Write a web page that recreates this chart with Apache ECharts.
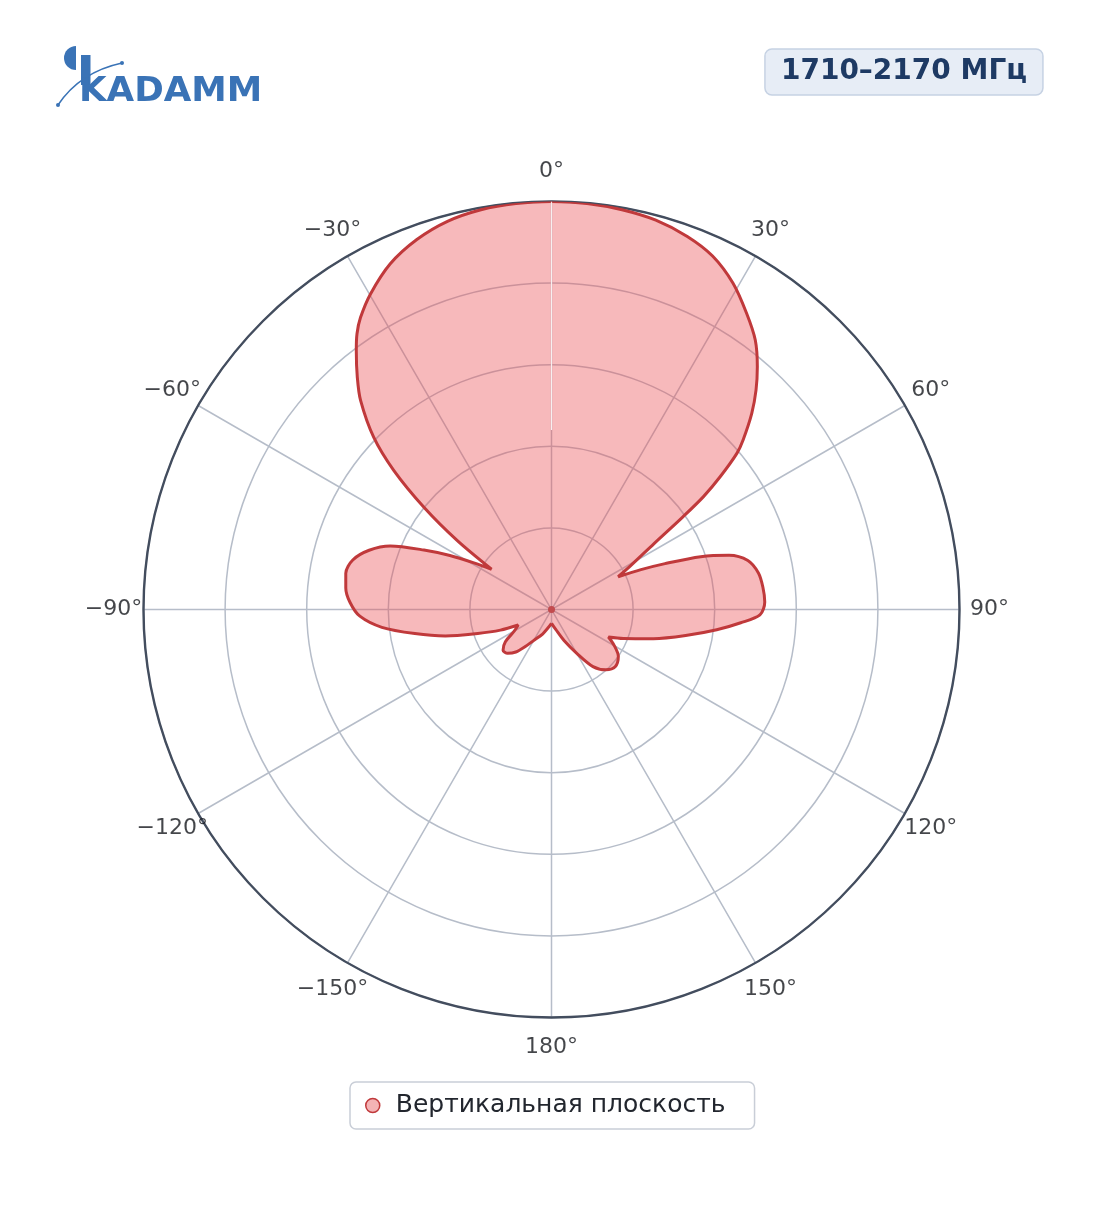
<!DOCTYPE html>
<html><head><meta charset="utf-8">
<script src="https://cdn.jsdelivr.net/npm/echarts@6/dist/echarts.min.js"></script>
<style>html,body{margin:0;padding:0;background:#fff}#chart{width:1104px;height:1211px}</style>
</head><body><div id="chart"></div>
<script>
// ---- data ----
const seriesName = 'Вертикальная плоскость';
const titleText = '1710–2170 МГц';
const logoText = 'KADAMM';
const angles = [-180,-170,-160,-150,-145,-140,-135,-130,-125,-120,
  -115,-112,-108,-104,-100,-96,-92,-88,-84,-80,
  -76,-72,-68.5,-65,-62,-59,-56.1,-53.8,-51.3,-48.6,
  -45.9,-42.4,-39.9,-37,-35.2,-33.2,-29.8,-25,-20,-15,
  -10,-5,0,5,10,15,20,24.5,29.1,33.4,
  37.1,40.3,43,45.6,48.5,49.9,51.8,53.4,54.8,57.3,
  61,63.8,66,68,70.5,73,76,80,84,88,
  91.5,94,97,101,106,112,115.8,120,125,132,
  138,144,150,158,168,180];
const gains = [0.034,0.045,0.064,0.088,0.11,0.136,0.152,0.155,0.138,0.105,
  0.09,0.135,0.19,0.268,0.34,0.418,0.47,0.494,0.507,0.512,
  0.502,0.47,0.425,0.345,0.282,0.222,0.177,0.286,0.40,0.515,
  0.607,0.694,0.742,0.795,0.827,0.855,0.892,0.935,0.965,0.985,
  0.995,0.999,1.0,0.999,0.995,0.988,0.973,0.952,0.915,0.869,
  0.828,0.780,0.735,0.687,0.627,0.594,0.526,0.464,0.395,0.298,
  0.222,0.182,0.24,0.30,0.388,0.455,0.496,0.515,0.521,0.523,
  0.511,0.465,0.408,0.335,0.26,0.19,0.155,0.178,0.20,0.21,
  0.199,0.173,0.124,0.082,0.05,0.034];
const angleTicks = [0,30,60,90,120,150,180,-150,-120,-90,-60,-30];
const seamRadii = [0.44, 1.0];
const seamAngle = 0;

// ---- chart ----
const FONT = 'DejaVu Sans';
const RED = '#c0393b';
const BLUE = '#3a73b6';
const C = [551.5, 609.5];
const fmtAngle = v => (v < 0 ? '\u2212' + Math.abs(v) : String(v)) + '°';

const chart = echarts.init(document.getElementById('chart'), null, {renderer: 'canvas'});
const angleBase = {type: 'value', min: -180, max: 180, interval: 30, startAngle: 270, clockwise: true};
const option = {
  animation: false,
  backgroundColor: '#ffffff',
  title: {
    text: titleText, right: 61, top: 49,
    padding: [9, 16, 9, 16],
    backgroundColor: '#e7edf6', borderColor: '#c6d2e3', borderWidth: 1.5, borderRadius: 7,
    textStyle: {fontFamily: FONT, fontSize: 28, fontWeight: 'bold', color: '#1e3a64'}
  },
  legend: {
    data: [{name: seriesName, icon: 'circle', itemStyle: {color: '#f4b3b5', borderColor: RED, borderWidth: 1.5}}],
    left: 350, top: 1082,
    itemWidth: 14, itemHeight: 14,
    padding: [11, 29, 11, 15],
    borderColor: '#c9ced7', borderWidth: 1.5, borderRadius: 6,
    textStyle: {fontFamily: FONT, fontSize: 25, color: '#22262e', padding: [0, 0, 0, 11]}
  },
  polar: [
    {center: C, radius: 408},
    {center: C, radius: 438}
  ],
  angleAxis: [
    Object.assign({polarIndex: 0,
      axisLine: {show: true, lineStyle: {color: '#434d5e', width: 2.4}},
      axisTick: {show: false}, axisLabel: {show: false},
      splitLine: {show: true, lineStyle: {color: '#b6bdc9', width: 1.5}}
    }, angleBase),
    Object.assign({polarIndex: 1,
      axisLine: {show: false}, axisTick: {show: false}, axisLabel: {show: false}, splitLine: {show: false}
    }, angleBase)
  ],
  radiusAxis: [
    {polarIndex: 0, type: 'value', min: 0, max: 1, interval: 0.2,
      axisLine: {show: false}, axisTick: {show: false}, axisLabel: {show: false},
      splitLine: {show: true, lineStyle: {color: '#b6bdc9', width: 1.5}}},
    {polarIndex: 1, type: 'value', min: 0, max: 1,
      axisLine: {show: false}, axisTick: {show: false}, axisLabel: {show: false}, splitLine: {show: false}}
  ],
  series: [
    {
      name: seriesName, type: 'line', coordinateSystem: 'polar', polarIndex: 0,
      data: angles.map((a, i) => [gains[i], a]),
      smooth: 0.3, symbol: 'none',
      lineStyle: {color: RED, width: 3},
      itemStyle: {color: RED},
      areaStyle: {color: 'rgb(235, 80, 85)', opacity: 0.4, origin: 'start'},
      z: 3
    },
    {
      name: 'seam', type: 'line', coordinateSystem: 'polar', polarIndex: 0,
      data: seamRadii.map(r => [r, seamAngle]), symbol: 'none',
      lineStyle: {color: 'rgba(255,255,255,0.85)', width: 1.2}, z: 4, silent: true
    },
    {
      name: 'center', type: 'scatter', coordinateSystem: 'polar', polarIndex: 0,
      data: [[0, 0]], symbolSize: 7, itemStyle: {color: RED}, z: 5, silent: true
    },
    {
      name: 'ticks', type: 'scatter', coordinateSystem: 'polar', polarIndex: 1,
      data: angleTicks.map(a => [1, a]), symbolSize: 1,
      itemStyle: {color: 'rgba(0,0,0,0)'}, silent: true,
      label: {show: true, position: 'inside', formatter: p => fmtAngle(p.value[1]),
        fontFamily: FONT, fontSize: 22, color: '#15181d'}
    }
  ],
  graphic: [
    {type: 'sector', shape: {cx: 76, cy: 58, r: 12, r0: 0, startAngle: Math.PI / 2, endAngle: Math.PI * 1.5, clockwise: true},
      style: {fill: BLUE}},
    {type: 'rect', shape: {x: 81, y: 55, width: 9.5, height: 30}, style: {fill: BLUE}},
    {type: 'text', x: 79, y: 76, scaleX: 1.08,
      style: {text: logoText, font: 'bold 33px "DejaVu Sans"', fill: BLUE}},
    {type: 'bezierCurve', shape: {x1: 58, y1: 105, x2: 122, y2: 63, cpx1: 80, cpy1: 72},
      style: {stroke: BLUE, lineWidth: 1.5, fill: null}},
    {type: 'circle', shape: {cx: 58, cy: 105, r: 2}, style: {fill: BLUE}},
    {type: 'circle', shape: {cx: 122, cy: 63, r: 2}, style: {fill: BLUE}}
  ]
};
chart.setOption(option);
</script>
</body></html>
